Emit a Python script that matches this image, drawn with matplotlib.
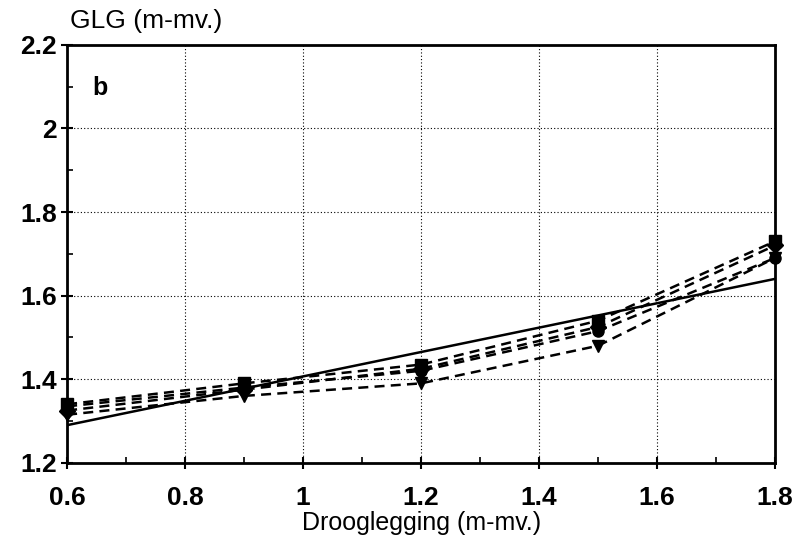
import matplotlib
matplotlib.use("Agg")
import matplotlib.pyplot as plt
from matplotlib.ticker import MultipleLocator

plt.rcParams['font.family'] = ['Liberation Sans', 'DejaVu Sans']

# droogleggingen (m-mv.)
drooglegging = [0.6, 0.9, 1.2, 1.5, 1.8]

# GLG per variant (dashed lines with markers)
glg_square = [1.34, 1.39, 1.435, 1.54, 1.73]
glg_circle = [1.335, 1.38, 1.42, 1.515, 1.69]
glg_diamond = [1.325, 1.375, 1.425, 1.525, 1.72]
glg_triangle = [1.315, 1.36, 1.39, 1.48, 1.69]

# linear relation (solid line)
lin_x = [0.6, 1.8]
lin_y = [1.29, 1.64]

xticks = [0.6, 0.8, 1.0, 1.2, 1.4, 1.6, 1.8]
xtick_labels = ['0.6', '0.8', '1', '1.2', '1.4', '1.6', '1.8']
yticks = [1.2, 1.4, 1.6, 1.8, 2.0, 2.2]
ytick_labels = ['1.2', '1.4', '1.6', '1.8', '2', '2.2']

fig = plt.figure(figsize=(7.99, 5.40), dpi=100)
ax = fig.add_axes([0.084, 0.143, 0.886, 0.774])

ax.plot(lin_x, lin_y, color='black', lw=1.8, solid_capstyle='butt')
for vals, mk in [(glg_square, 's'), (glg_circle, 'o'),
                 (glg_diamond, 'D'), (glg_triangle, 'v')]:
    ax.plot(drooglegging, vals, color='black', lw=1.8, ls=(0, (4, 2.5)),
            marker=mk, ms=8, clip_on=False, zorder=3)

ax.set_xlim(0.6, 1.8)
ax.set_ylim(1.2, 2.2)
ax.set_xticks(xticks)
ax.set_xticklabels(xtick_labels)
ax.set_yticks(yticks)
ax.set_yticklabels(ytick_labels)
ax.xaxis.set_minor_locator(MultipleLocator(0.1))
ax.yaxis.set_minor_locator(MultipleLocator(0.1))

ax.grid(True, which='major', ls=(0, (1, 2)), color='black', lw=0.8)
ax.tick_params(which='major', direction='inout', length=9, width=1.5,
               labelsize=19)
ax.tick_params(axis='x', which='major', pad=12)
ax.tick_params(axis='y', which='major', pad=3)
ax.tick_params(which='minor', direction='in', length=4, width=1.2)
for lab in ax.get_xticklabels() + ax.get_yticklabels():
    lab.set_fontweight('bold')
for s in ax.spines.values():
    s.set_linewidth(2)

ax.set_xlabel('Drooglegging (m-mv.)', fontsize=18, labelpad=1)
fig.text(0.088, 0.962, 'GLG (m-mv.)', fontsize=19, ha='left', va='center')
ax.text(0.035, 0.88, 'b', fontsize=18, fontweight='bold', transform=ax.transAxes)

fig.savefig('out.png', dpi=100)
